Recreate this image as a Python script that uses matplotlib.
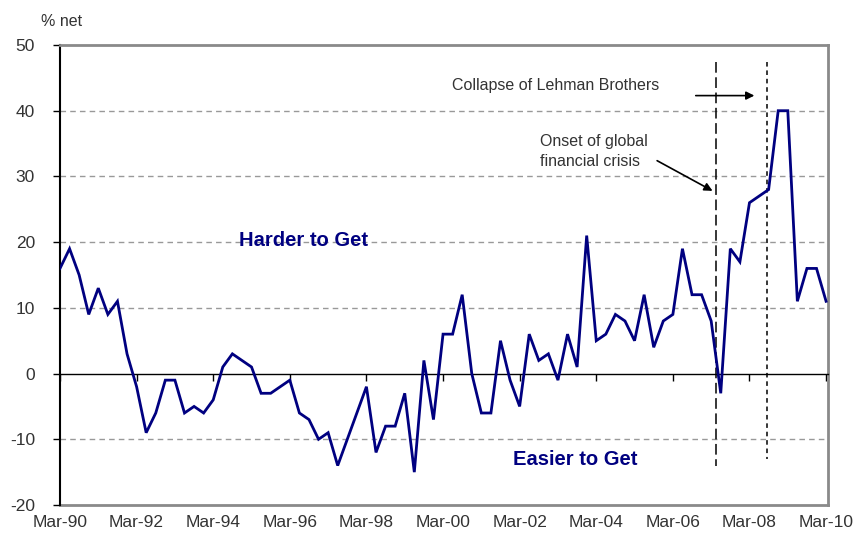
import numpy as np
import matplotlib
matplotlib.use('Agg')
from matplotlib import pyplot as plt

# quarterly, Mar-90 .. Mar-10
quarters = np.arange(81)
net_pct = [16, 19, 15, 9, 13, 9, 11, 3, -2, -9,
           -6, -1, -1, -6, -5, -6, -4, 1, 3, 2,
           1, -3, -3, -2, -1, -6, -7, -10, -9, -14,
           -10, -6, -2, -12, -8, -8, -3, -15, 2, -7,
           6, 6, 12, 0, -6, -6, 5, -1, -5, 6,
           2, 3, -1, 6, 1, 21, 5, 6, 9, 8,
           5, 12, 4, 8, 9, 19, 12, 12, 8, -3,
           19, 17, 26, 27, 28, 40, 40, 11, 16, 16, 11]
tick_pos = [0, 8, 16, 24, 32, 40, 48, 56, 64, 72, 80]
tick_labels = ['Mar-90', 'Mar-92', 'Mar-94', 'Mar-96', 'Mar-98', 'Mar-00',
               'Mar-02', 'Mar-04', 'Mar-06', 'Mar-08', 'Mar-10']
y_ticks = [-20, -10, 0, 10, 20, 30, 40, 50]
onset_q = 68.5
lehman_q = 73.8

NAVY = '#000080'
TXT = '#333333'
FRAME = '#8a8a8a'

plt.rcParams['font.family'] = ['Liberation Sans', 'DejaVu Sans']
plt.rcParams['axes.unicode_minus'] = False

fig = plt.figure(figsize=(8.54, 5.41), dpi=100)
ax = fig.add_axes([60 / 854, 1 - 505 / 541, 768 / 854, 460 / 541])

ax.set_xlim(0, 80.2)
ax.set_ylim(-20, 50)

# dashed gridlines
for v in [-10, 10, 20, 30, 40]:
    ax.axhline(v, color='#999999', lw=1, linestyle=(0, (4, 3)), zorder=1)

ax.plot(quarters, net_pct, color=NAVY, lw=2.0, zorder=4, solid_joinstyle='miter')

# spines: bottom is the zero axis
ax.spines['bottom'].set_position(('data', 0))
ax.spines['bottom'].set_color('black')
ax.spines['bottom'].set_linewidth(1.0)
ax.spines['left'].set_color('black')
ax.spines['left'].set_linewidth(1.5)
for s in ['top', 'right']:
    ax.spines[s].set_color(FRAME)
    ax.spines[s].set_linewidth(2)

ax.set_xticks(tick_pos)
ax.tick_params(axis='x', direction='out', length=5, width=1, labelbottom=False)
ax.set_yticks(y_ticks)
ax.tick_params(axis='y', direction='out', length=5, width=1, labelsize=12.5,
               labelcolor=TXT, pad=13)

# labels along the bottom of the frame
sec = ax.secondary_xaxis(0.0)
sec.set_xticks(tick_pos)
sec.set_xticklabels(tick_labels)
sec.tick_params(length=0, labelsize=12.5, labelcolor=TXT, pad=7)
sec.spines['bottom'].set_color(FRAME)
sec.spines['bottom'].set_linewidth(2)

# vertical event lines
ax.plot([onset_q, onset_q], [47.4, -14.0], color='black', lw=1.1,
        linestyle=(0, (7, 3)), zorder=3)
ax.plot([lehman_q, lehman_q], [47.4, -13.0], color='black', lw=1.1,
        linestyle=(0, (3, 2.5)), zorder=3)

ax.text(25.4, 20.3, 'Harder to Get', color=NAVY, fontsize=14.5,
        fontweight='bold', ha='center', va='center')
ax.text(53.8, -13.0, 'Easier to Get', color=NAVY, fontsize=14.5,
        fontweight='bold', ha='center', va='center')

ax.text(51.8, 43.9, 'Collapse of Lehman Brothers', color=TXT, fontsize=11.5,
        ha='center', va='center')
ax.annotate('', xy=(72.8, 42.3), xytext=(66.1, 42.3),
            arrowprops=dict(arrowstyle='-|>', color='black', lw=1.2,
                            mutation_scale=12))
ax.text(50.1, 33.8, 'Onset of global\nfinancial crisis', color=TXT,
        fontsize=11.5, ha='left', va='center', linespacing=1.45)
ax.annotate('', xy=(68.4, 27.6), xytext=(62.1, 32.6),
            arrowprops=dict(arrowstyle='-|>', color='black', lw=1.2,
                            mutation_scale=12))

fig.text(62 / 854, 1 - 22 / 541, '% net', color=TXT, fontsize=11.5,
         ha='center', va='center')

fig.savefig('out.png', dpi=100)
